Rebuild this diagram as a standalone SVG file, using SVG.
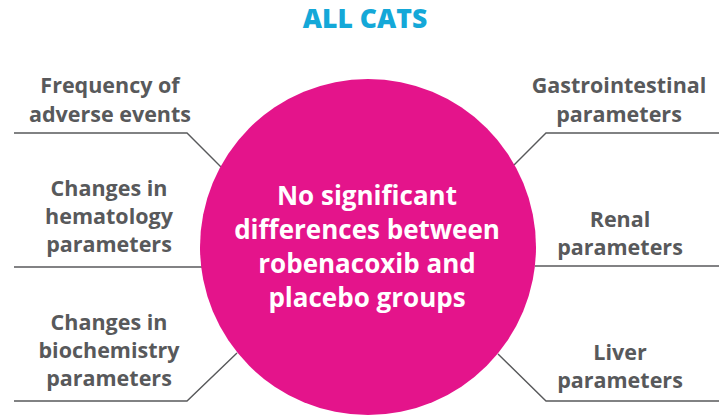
<svg xmlns="http://www.w3.org/2000/svg" width="721" height="416" viewBox="0 0 721 416">
<style>
.lbl{font-family:"Open Sans","Liberation Sans",sans-serif;font-weight:700;font-size:21.5px;fill:#58595b;text-anchor:middle;font-variant-ligatures:none}
.ctr{font-family:"Open Sans","Liberation Sans",sans-serif;font-weight:700;font-size:26px;fill:#ffffff;text-anchor:middle;font-variant-ligatures:none}
.ttl{font-family:"Open Sans","Liberation Sans",sans-serif;font-weight:800;font-size:26.5px;fill:#14a8d8;text-anchor:middle}
.conn{fill:none;stroke:#58595b;stroke-width:1.4}
</style>
<rect width="721" height="416" fill="#ffffff"/>
<text class="ttl" x="365" y="28">ALL CATS</text>
<g id="connectors">
<polyline class="conn" points="14,133 187,133 221,167"/>
<polyline class="conn" points="14,267 202,267"/>
<polyline class="conn" points="14,401 187,401 237,353"/>
<polyline class="conn" points="719,133 546,133 514,165"/>
<polyline class="conn" points="535,266 719,266"/>
<polyline class="conn" points="719,401 546,401 498,354"/>
</g>
<g id="center">
<circle cx="368" cy="247" r="168" fill="#e4148b"/>
<text class="ctr" x="367" y="205">No significant</text>
<text class="ctr" x="367" y="239">differences between</text>
<text class="ctr" x="367" y="273">robenacoxib and</text>
<text class="ctr" x="367" y="307">placebo groups</text>
</g>
<g id="frequency">
<text class="lbl" x="110" y="93">Frequency of</text>
<text class="lbl" x="110" y="122">adverse events</text>
</g>
<g id="hematology">
<text class="lbl" x="109" y="196">Changes in</text>
<text class="lbl" x="109" y="224">hematology</text>
<text class="lbl" x="109" y="252">parameters</text>
</g>
<g id="biochemistry">
<text class="lbl" x="109" y="330">Changes in</text>
<text class="lbl" x="109" y="358">biochemistry</text>
<text class="lbl" x="109" y="386">parameters</text>
</g>
<g id="gastro">
<text class="lbl" x="619" y="93">Gastrointestinal</text>
<text class="lbl" x="619" y="122">parameters</text>
</g>
<g id="renal">
<text class="lbl" x="620" y="227">Renal</text>
<text class="lbl" x="620" y="255">parameters</text>
</g>
<g id="liver">
<text class="lbl" x="620" y="360">Liver</text>
<text class="lbl" x="620" y="388">parameters</text>
</g>
</svg>
